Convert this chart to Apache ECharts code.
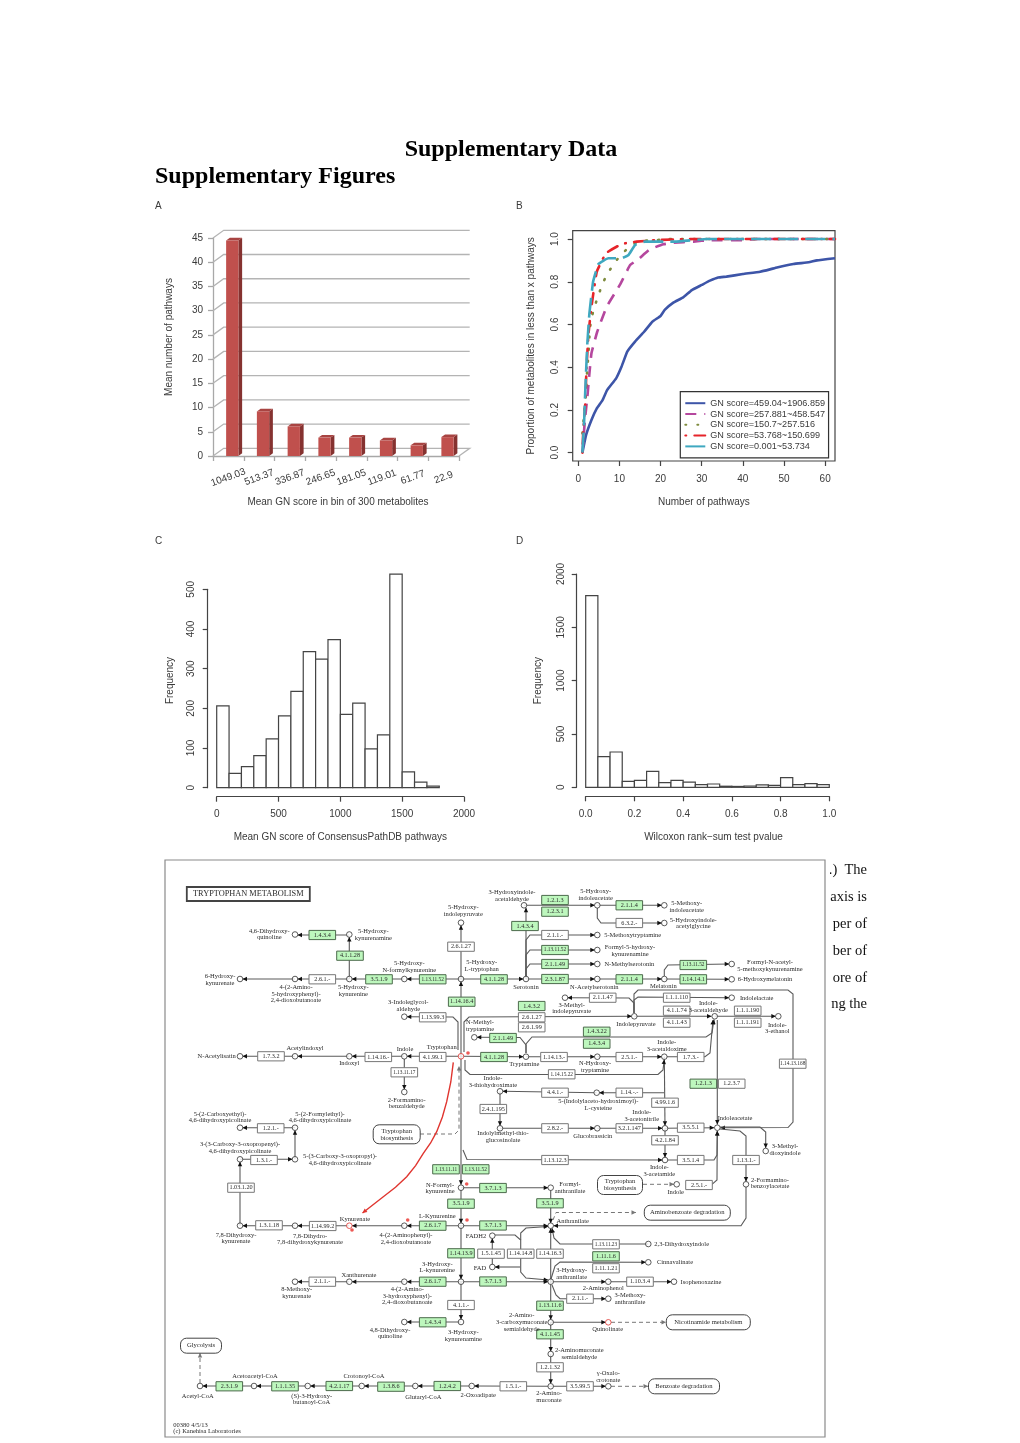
<!DOCTYPE html>
<html>
<head>
<meta charset="utf-8">
<title>Supplementary Figures</title>
<script src="https://cdn.jsdelivr.net/npm/echarts@6/dist/echarts.min.js"></script>
<style>
  html, body { margin: 0; padding: 0; background: #fff; }
  #main { width: 1020px; height: 1443px; }
</style>
</head>
<body>
<div id="main"></div>
<script>
// panel A
const binScores = ['1049.03', '513.37', '336.87', '246.65', '181.05', '119.01', '61.77', '22.9'];
const meanPathways = [44.5, 9.2, 6.1, 3.8, 3.8, 3.2, 2.2, 3.9];
const wallTicks = [0, 5, 10, 15, 20, 25, 30, 35, 40, 45];

// panel B, [x, proportion]
const curveNames = ['GN score=459.04~1906.859', 'GN score=257.881~458.547', 'GN score=150.7~257.516', 'GN score=53.768~150.699', 'GN score=0.001~53.734'];
const curveTop = [[1, 0], [1.9, .083], [3.2, .153], [4.5, .207], [5.9, .246], [7, .293], [9.2, .348], [10.5, .402], [11.9, .473], [13.8, .52], [16, .566], [18, .613], [20, .64], [21, .668], [23.1, .702], [25.5, .727], [27.6, .761], [30, .785], [32, .805], [34, .82], [36, .824], [40, .836], [44.2, .847], [46.6, .858], [48.3, .867], [52.3, .883], [56, .891], [58, .9], [62.4, .91]];
const curveSecond = [[1, 0], [1.6, .15], [2.2, .26], [2.7, .37], [3.2, .465], [4.6, .566], [6.9, .683], [10.1, .785], [12.6, .878], [14.6, .905], [17.4, .952], [20.7, .975], [23.1, .983], [28, .988], [32, .995], [40, .995], [43.4, 1], [62.4, 1]];
const curveThird = [[1, .09], [1.5, .2], [1.9, .285], [2.2, .4], [2.5, .465], [2.8, .575], [3.2, .63], [4, .686], [5, .743], [6, .796], [7.4, .847], [9, .894], [11, .938], [13.2, .975], [16, .992], [18.9, .995], [22, 1], [24.9, 1], [37, 1], [62.4, 1]];
const curveFourth = [[1, 0], [1.2, .098], [1.7, .23], [2, .4], [2.5, .56], [3.2, .683], [4.5, .847], [6.7, .933], [9.3, .964], [11.4, .98], [14.2, .988], [19, .995], [28, 1], [62.4, 1]];
const curveFifth = [[1, 0], [1.4, .137], [1.7, .293], [2.2, .512], [2.7, .652], [3.6, .8], [4.9, .883], [7.3, .91], [10.5, .91], [12.2, .925], [13.8, .972], [16.2, .988], [20.7, .988], [23.5, .988], [31.2, 1], [62.4, 1]];
const bTicksX = [0, 10, 20, 30, 40, 50, 60];
const bTicksY = [0, .2, .4, .6, .8, 1];

// panel C histogram
const cBins = [0, 100, 200, 300, 400, 500, 600, 700, 800, 900, 1000, 1100, 1200, 1300, 1400, 1500, 1600, 1700, 1800];
const cFreq = [206, 36, 53, 81, 123, 181, 243, 343, 324, 373, 185, 213, 98, 133, 538, 40, 14, 4];

// panel D histogram
const dBins = [0, .05, .1, .15, .2, .25, .3, .35, .4, .45, .5, .55, .6, .65, .7, .75, .8, .85, .9, .95, 1];
const dFreq = [1797, 288, 331, 55, 65, 150, 44, 65, 48, 25, 31, 10, 8, 12, 22, 18, 90, 25, 34, 25];

// pathway diagram, in diagram units: [label, x, y, annotated]
const enzymes = [
  ['1.4.3.4', 322.3, 935, 1], ['4.1.1.28', 350, 955.7, 1], ['3.5.1.9', 379, 979.3, 1], ['1.13.11.52', 432.7, 979.3, 1],
  ['2.6.1.-', 322.3, 979.3, 0], ['2.6.1.27', 461, 946.7, 0], ['1.14.16.4', 461.7, 1001.7, 1], ['1.13.99.3', 432.7, 1017.3, 0],
  ['4.1.99.1', 432.7, 1057, 0], ['1.14.16.-', 378.3, 1057, 0], ['1.7.3.2', 271, 1056.3, 0], ['1.13.11.17', 404.3, 1072.3, 0],
  ['1.2.1.-', 270.7, 1128.3, 0], ['4.1.1.28', 494, 979.3, 1], ['1.2.1.3', 555, 900, 1], ['1.2.3.1', 555, 911.7, 1],
  ['1.4.3.4', 525, 926, 1], ['2.1.1.4', 629.3, 905.3, 1], ['6.3.2.-', 629.3, 923, 0], ['2.1.1.-', 555, 935, 0],
  ['1.13.11.52', 555, 950, 1], ['2.1.1.49', 555, 964, 1], ['2.3.1.87', 555, 979, 1], ['2.1.1.4', 629.3, 979.3, 1],
  ['1.13.11.52', 693.3, 965, 1], ['1.14.14.1', 693.3, 979.3, 1], ['2.1.1.47', 602.7, 997.7, 0], ['1.1.1.110', 676.7, 997.7, 0],
  ['4.1.1.74', 676.7, 1010.7, 0], ['4.1.1.43', 676.7, 1022.7, 0], ['1.1.1.190', 747.7, 1010.7, 0], ['1.1.1.191', 747.7, 1022.7, 0],
  ['1.4.3.2', 531.7, 1006, 1], ['2.6.1.27', 531.7, 1017.3, 0], ['2.6.1.99', 531.7, 1027.3, 0], ['2.1.1.49', 503, 1038, 1],
  ['1.4.3.22', 596.7, 1031.7, 1], ['1.4.3.4', 596.7, 1043.7, 1], ['4.1.1.28', 494, 1057, 1], ['1.14.13.-', 554, 1057, 0],
  ['2.5.1.-', 629.3, 1057, 0], ['1.7.3.-', 690.7, 1057, 0], ['1.14.15.22', 561.7, 1074.3, 0], ['1.2.1.3', 703.3, 1083.7, 1],
  ['1.2.3.7', 731.7, 1083.7, 0], ['1.14.-.-', 629.3, 1092.7, 0], ['4.4.1.-', 555, 1092.7, 0], ['2.4.1.195', 493.3, 1109, 0],
  ['4.99.1.6', 665, 1102.7, 0], ['2.8.2.-', 555, 1128.3, 0], ['3.2.1.147', 629.3, 1128.3, 0], ['3.5.5.1', 690.7, 1127.7, 0],
  ['4.2.1.84', 665, 1140.3, 0], ['1.14.13.168', 792.7, 1063.7, 0], ['1.13.12.3', 555, 1160, 0], ['3.5.1.4', 690.7, 1160, 0],
  ['1.13.1.-', 746, 1160, 0], ['2.5.1.-', 699, 1185, 0], ['3.5.1.9', 550, 1203.3, 1], ['3.7.1.3', 493, 1188, 1],
  ['3.7.1.3', 493, 1225.5, 1], ['3.7.1.3', 493, 1281.5, 1], ['1.13.11.23', 606, 1244.3, 0], ['1.11.1.6', 606, 1256.3, 1],
  ['1.11.1.21', 606, 1268.3, 0], ['1.14.14.8', 520.7, 1253.7, 0], ['1.14.16.3', 550, 1253.7, 0], ['1.5.1.45', 491, 1253.7, 0],
  ['1.10.3.4', 640, 1281.7, 0], ['2.1.1.-', 580, 1298.7, 0], ['1.13.11.6', 550, 1305.7, 1], ['4.1.1.45', 550, 1334.3, 1],
  ['1.2.1.32', 550, 1367.3, 0], ['3.5.99.5', 580, 1386.3, 0], ['1.5.1.-', 513.3, 1386.3, 0], ['1.13.11.11', 446, 1169.3, 1],
  ['1.13.11.52', 475.7, 1169.3, 1], ['3.5.1.9', 461, 1203.7, 1], ['2.6.1.7', 432.7, 1225.7, 1], ['1.14.13.9', 461, 1253.3, 1],
  ['2.6.1.7', 432.7, 1281.7, 1], ['4.1.1.-', 461, 1305, 0], ['1.4.3.4', 432.7, 1322.3, 1], ['2.1.1.-', 322.3, 1281.7, 0],
  ['1.14.99.2', 322.7, 1226, 0], ['1.3.1.18', 269, 1225.3, 0], ['1.03.1.20', 241, 1187.7, 0], ['1.3.1.-', 264, 1160, 0],
  ['2.3.1.9', 229.3, 1386.3, 1], ['1.1.1.35', 285, 1386.3, 1], ['4.2.1.17', 339.3, 1386, 1], ['1.3.8.6', 391, 1386.7, 1],
  ['1.2.4.2', 447.3, 1386, 1]
];
const compounds = [
  [295, 934.5], [349.3, 934.5], [349.3, 979], [295, 979], [240, 979], [404.3, 979], [461, 979], [461, 922.7], [404.3, 1016.7],
  [404.3, 1056.3], [349.3, 1056.3], [295, 1056.3], [240, 1056.3], [404.3, 1092], [240, 1127.7], [295, 1127.7], [474.3, 1037.3],
  [295, 1159.3], [240, 1159.3], [240, 1225.7], [295, 1225.7], [404.3, 1225.7], [461, 1225.7], [461, 1187.7], [492.3, 1235.7],
  [492.3, 1267], [461, 1281.7], [404.3, 1281.7], [349.3, 1281.7], [295, 1281.7], [461, 1322], [404.3, 1322], [200, 1386],
  [254, 1386], [307.7, 1386], [361.7, 1386], [415.3, 1386], [471.7, 1386], [524, 905.3], [597.3, 905.3], [664.3, 905.3],
  [664.3, 923], [597.3, 935], [597.3, 950], [597.3, 964], [526, 979], [597.3, 979], [664.3, 979], [731.7, 964], [731.7, 979.3],
  [565, 997.7], [634.3, 1016.3], [731.7, 997.7], [714.7, 1016.3], [778.3, 1016.3], [526, 1056.7], [597.3, 1056.7], [664.3, 1056.7],
  [596.7, 1092.7], [500, 1091.3], [500, 1128.3], [597.3, 1128.3], [665, 1128.3], [717.3, 1127.7], [765.7, 1151], [665, 1160],
  [676.7, 1184.3], [746, 1184.3], [550.7, 1187.7], [550.7, 1225.7], [648.3, 1244], [648.3, 1262.3], [550.7, 1281.7], [608.3, 1281.7],
  [674, 1281.7], [608.3, 1298.7], [550.7, 1322.3], [550.7, 1354], [550.7, 1386.3], [608.3, 1386.3]
];
const markedCompounds = [[461, 1056.3], [349.3, 1225.7], [608.3, 1322.3]];
const redDots = [[468, 1053], [466.7, 1184], [467, 1220], [407.7, 1220], [352, 1230]];
const compoundNames = [
  ['4,6-Dihydroxy-\nquinoline', 269.3, 934.3], ['5-Hydroxy-\nkynurenamine', 373.3, 935], ['6-Hydroxy-\nkynurenate', 220, 980],
  ['4-(2-Amino-\n5-hydroxyphenyl)-\n2,4-dioxobutanoate', 296, 994], ['5-Hydroxy-\nkynurenine', 353.3, 991],
  ['5-Hydroxy-\nN-formylkynurenine', 409.3, 966.7], ['5-Hydroxy-\nL-tryptophan', 481.7, 966], ['5-Hydroxy-\nindolepyruvate', 463.3, 910.7],
  ['3-Indoleglycol-\naldehyde', 408.3, 1005.7], ['N-Methyl-\ntryptamine', 480, 1026], ['N-Acetylisatin', 216.7, 1056.3],
  ['Acetylindoxyl', 305, 1048.7], ['Indoxyl', 349.3, 1063.7], ['Indole', 405, 1049.3], ['Tryptophan', 441.7, 1047.7],
  ['2-Formamino-\nbenzaldehyde', 406.7, 1103.3], ['5-(2-Carboxyethyl)-\n4,6-dihydroxypicolinate', 220, 1117.3],
  ['5-(2-Formylethyl)-\n4,6-dihydroxypicolinate', 320, 1117.3], ['3-(3-Carboxy-3-oxopropenyl)-\n4,6-dihydroxypicolinate', 240, 1147.7],
  ['5-(3-Carboxy-3-oxopropyl)-\n4,6-dihydroxypicolinate', 340, 1160], ['7,8-Dihydroxy-\nkynurenate', 236, 1238.3],
  ['7,8-Dihydro-\n7,8-dihydroxykynurenate', 310, 1239.3], ['Kynurenate', 355, 1219], ['4-(2-Aminophenyl)-\n2,4-dioxobutanoate', 406, 1238.7],
  ['L-Kynurenine', 437.3, 1216], ['N-Formyl-\nkynurenine', 440, 1188.3], ['FADH2', 476, 1236], ['FAD', 480, 1268.7],
  ['3-Hydroxy-\nL-kynurenine', 437.3, 1267.3], ['Xanthurenate', 359, 1275], ['8-Methoxy-\nkynurenate', 296.7, 1292.7],
  ['4-(2-Amino-\n3-hydroxyphenyl)-\n2,4-dioxobutanoate', 407.3, 1296], ['4,8-Dihydroxy-\nquinoline', 390, 1333.3],
  ['3-Hydroxy-\nkynurenamine', 463.3, 1336], ['Acetyl-CoA', 197.7, 1396], ['Acetoacetyl-CoA', 255, 1376.7],
  ['(S)-3-Hydroxy-\nbutanoyl-CoA', 311.7, 1399.3], ['Crotonoyl-CoA', 364, 1376], ['Glutaryl-CoA', 423.3, 1397], ['2-Oxoadipate', 478.3, 1395],
  ['3-Hydroxyindole-\nacetaldehyde', 512, 896], ['5-Hydroxy-\nindoleacetate', 595.7, 895], ['5-Methoxy-\nindoleacetate', 686.7, 906.7],
  ['5-Hydroxyindole-\nacetylglycine', 693.3, 923.3], ['5-Methoxytryptamine', 632.7, 935], ['Formyl-5-hydroxy-\nkynurenamine', 630, 950.7],
  ['N-Methylserotonin', 629.3, 964.3], ['Serotonin', 526, 987.3], ['Melatonin', 663.3, 986], ['Formyl-N-acetyl-\n5-methoxykynurenamine', 770, 965.7],
  ['6-Hydroxymelatonin', 765, 979.7], ['N-Acetylserotonin', 594.3, 987.7], ['Indolelactate', 756.7, 998.3], ['Indole-\n3-acetaldehyde', 708.3, 1006.7],
  ['Indole-\n3-ethanol', 777.3, 1028.3], ['Indolepyruvate', 636, 1024.3], ['3-Methyl-\nindolepyruvate', 571.7, 1008.3], ['Tryptamine', 524.3, 1064.3],
  ['N-Hydroxy-\ntryptamine', 595, 1066.7], ['Indole-\n3-acetaldoxime', 666.7, 1046], ['5-(Indolylaceto-hydroximoyl)-\nL-cysteine', 598.3, 1105],
  ['Indole-\n3-acetonitrile', 641.7, 1115.7], ['Indoleacetate', 735, 1118.3], ['3-Methyl-\ndioxyindole', 785, 1150], ['Glucobrassicin', 592.7, 1136.7],
  ['Indole-\n3-thiohydroximate', 493, 1082], ['Indolylmethyl-thio-\nglucosinolate', 503, 1137], ['Indole-\n3-acetamide', 659.3, 1170.7],
  ['Indole', 675.7, 1192.7], ['2-Formamino-\nbenzoylacetate', 770, 1183.3], ['Formyl-\nanthranilate', 570, 1187.7], ['Anthranilate', 572.7, 1221.3],
  ['2,3-Dihydroxyindole', 681.7, 1244], ['Cinnavalinate', 675, 1262.7], ['Isophenoxazine', 701, 1282.3], ['3-Hydroxy-\nanthranilate', 571.7, 1274],
  ['2-Aminophenol', 603.3, 1288.3], ['3-Methoxy-\nanthranilate', 630, 1299], ['2-Amino-\n3-carboxymuconate\nsemialdehyde', 521.7, 1322.3],
  ['Quinolinate', 607.7, 1329.3], ['2-Aminomuconate\nsemialdehyde', 579.3, 1354], ['γ-Oxalo-\ncrotonate', 608.3, 1376.7], ['2-Amino-\nmuconate', 549, 1396.7]
];
const mapBoxes = [
  ['TRYPTOPHAN METABOLISM', 248.3, 894, 123, 14], ['Aminobenzoate degradation', 687.3, 1212.7, 86, 15], ['Nicotinamide metabolism', 708.3, 1322.3, 84, 15],
  ['Benzoate degradation', 684, 1386.3, 71, 15], ['Tryptophan\nbiosynthesis', 620, 1185, 45, 19], ['Tryptophan\nbiosynthesis', 396.7, 1134.3, 47, 19], ['Glycolysis', 201, 1345.7, 41, 15]
];
// reactions ending in an arrowhead, flat x,y lists
const arrowEdges = [
  [349.3, 935, 297.5, 935], [349.3, 979, 349.3, 937], [461, 979, 406.8, 979], [404.3, 979, 351.8, 979], [349.3, 979, 297.5, 979], [295, 979, 242.5, 979],
  [461, 1056, 461, 981.5], [461, 979, 461, 925.2], [461, 979, 523.5, 979], [526, 979, 526, 907.8],
  [526, 976, 526, 940, 530, 935, 594.8, 935], [526, 976, 526, 955, 530, 950, 594.8, 950], [526, 976, 526, 969, 530, 964, 594.8, 964],
  [526, 979, 594.8, 979], [597.3, 979, 661.8, 979], [664.3, 979, 729.2, 979.3], [664.3, 976, 664.3, 970, 668, 965, 729.2, 964],
  [524, 905.3, 594.8, 905.3], [597.3, 905.3, 661.8, 905.3], [597.3, 908, 597.3, 918, 601, 923, 661.8, 923],
  [461, 1056.3, 406.8, 1056.3], [404.3, 1056.3, 351.8, 1056.3], [349.3, 1056.3, 297.5, 1056.3], [295, 1056.3, 242.5, 1056.3], [404.3, 1059, 404.3, 1089.5],
  [458, 1050, 458, 1022, 453, 1017, 406.8, 1016.7], [461, 1056.3, 523.5, 1056.7], [526, 1056.7, 594.8, 1056.7], [597.3, 1056.7, 661.8, 1056.7],
  [667, 1056.7, 705, 1056.7, 710, 1053, 713, 1020], [464, 1052, 464, 1022, 469, 1017, 631.8, 1016.3], [526, 1053, 526, 1045, 520, 1037.5, 476.8, 1037.3],
  [526, 1053, 526, 1044, 532, 1037, 706, 1037, 712, 1033, 714, 1019.5], [634.3, 1016.3, 711.5, 1016.3], [714.7, 1016.3, 775.8, 1016.3],
  [634, 1013, 634, 1000, 638, 997, 729.2, 997.7], [634, 1013, 634, 1003, 629, 998, 567.5, 997.7], [634, 1013, 634, 994, 638, 990, 788, 990, 793, 994, 793, 1122, 788, 1127.5, 720.5, 1127.7],
  [717.3, 1020, 717.3, 1124.5], [712, 1184.3, 717, 1180, 717.3, 1131], [668, 1160, 714, 1160, 717, 1155, 717.3, 1131], [665, 1128.3, 714.2, 1127.7],
  [664.3, 1056.7, 665, 1125.8], [665, 1128.3, 665, 1157.5], [720, 1127, 760, 1127, 765.7, 1132, 765.7, 1148],
  [720, 1129, 740, 1131, 746, 1136, 746, 1181.5], [746, 1187, 746, 1218, 741, 1225.7, 553.5, 1225.7], [664.3, 1092.7, 599.2, 1092.7], [596.7, 1092.7, 502.5, 1091.3],
  [465, 1060, 465, 1070, 470, 1074.5, 658, 1074.5, 663, 1070, 664.3, 1059.5], [461, 1056.3, 461, 1184.7], [500, 1128.3, 594.8, 1128.3], [597.3, 1128.3, 662.5, 1128.3],
  [500, 1091.3, 500, 1125.8], [463, 1150, 467, 1159.5, 662.5, 1160], [461, 1187.7, 548.2, 1187.7], [461, 1190, 461, 1223.2], [550.7, 1190, 550.7, 1223.2],
  [461, 1225.7, 548.2, 1225.7], [461, 1225.7, 406.8, 1225.7], [404.3, 1225.7, 352, 1225.7], [349.3, 1225.7, 297.5, 1225.7], [295, 1225.7, 242.5, 1225.7], [240, 1225.7, 240, 1161.8],
  [461, 1225.7, 461, 1279.2], [461, 1281.7, 406.8, 1281.7], [404.3, 1281.7, 351.8, 1281.7], [349.3, 1281.7, 297.5, 1281.7], [461, 1281.7, 548.2, 1281.7],
  [461, 1281.7, 461, 1319.5], [461, 1322, 406.8, 1322], [240, 1159.3, 292.5, 1159.3], [295, 1159.3, 295, 1130.2], [295, 1127.7, 242.5, 1127.7],
  [492.3, 1265, 492.3, 1238.2], [520, 1267, 494.8, 1267], [495, 1235, 515, 1235, 520.7, 1240, 520.7, 1272, 526, 1278, 548.2, 1280], [520.7, 1240, 520.7, 1233, 526, 1228, 548.2, 1226.5],
  [550.7, 1281.7, 550.7, 1228.2], [648.3, 1244, 560, 1244, 554, 1238, 552, 1228.2], [551, 1279, 555, 1266, 560, 1262, 645.8, 1262.3], [550.7, 1281.7, 605.8, 1281.7], [608.3, 1281.7, 671.5, 1281.7],
  [552, 1285, 556, 1295, 560, 1298.7, 605.8, 1298.7], [550.7, 1281.7, 550.7, 1319.8], [550.7, 1322.3, 605.8, 1322.3], [550.7, 1322.3, 550.7, 1351.5], [550.7, 1354, 550.7, 1383.8],
  [550.7, 1386.3, 474.2, 1386], [471.7, 1386, 417.8, 1386], [415.3, 1386, 364.2, 1386], [361.7, 1386, 310.2, 1386], [307.7, 1386, 256.5, 1386], [254, 1386, 202.5, 1386], [550.7, 1386.3, 605.8, 1386.3]
];
// map links
const dashEdges = [
  [420, 1134, 455, 1134, 459, 1130, 459, 1066], [200, 1383, 200, 1353], [611, 1322.3, 666, 1322.3], [611, 1386.3, 648, 1386.3],
  [553, 1220, 556, 1212.5, 636, 1212.5], [643, 1184.3, 674, 1184.3]
];
const redArc = [453.3, 1062.3, 450.8, 1082, 446.7, 1101.7, 442.4, 1117, 436.7, 1131.7, 430.6, 1143, 423.3, 1153.3, 415.6, 1165.6, 406.7, 1176.7, 395.5, 1187.3, 383.3, 1196.7, 362.5, 1213];

// page text
const sideLines = [['.)  The', 870], ['axis is', 897], ['per of', 924], ['ber of', 951], ['ore of', 978], ['ng the', 1004]];
const panelLetters = [['A', 155, 206], ['B', 516, 206], ['C', 155, 541], ['D', 516, 541]];

const SANS = '"Liberation Sans", Arial, sans-serif';
const SERIF = '"Liberation Serif", "Times New Roman", serif';
const INK = '#3a3a3a';
const AXIS_GREY = '#a8a8a8';

const myChart = echarts.init(document.getElementById('main'));

function fixedTicks(v) { return v.toFixed(1); }
function plainTicks(v) { return String(v); }

// R style axis: ticks out, labels turned for y
function rAxisX(gridIndex, min, max, interval, name, gap, fmt, shift) {
  return {
    type: 'value', gridIndex, min, max, interval, offset: 9,
    name, nameLocation: 'middle', nameGap: gap,
    nameTextStyle: { color: INK, fontFamily: SANS, fontSize: 10, padding: [0, 0, 0, shift || 0] },
    axisLine: { show: true, onZero: false, lineStyle: { color: '#444', width: 1.2 } },
    axisTick: { show: true, length: 5, lineStyle: { color: '#444', width: 1.2 } },
    axisLabel: { color: INK, fontFamily: SANS, fontSize: 10, margin: 13, showMaxLabel: true, showMinLabel: true, formatter: fmt },
    splitLine: { show: false }
  };
}
function rAxisY(gridIndex, min, max, interval, name, gap, shift, margin) {
  return {
    type: 'value', gridIndex, min, max, interval, offset: 9,
    name, nameLocation: 'middle', nameGap: gap,
    nameTextStyle: { color: INK, fontFamily: SANS, fontSize: 10, padding: [0, 0, 0, shift || 0] },
    axisLine: { show: true, onZero: false, lineStyle: { color: '#444', width: 1.2 } },
    axisTick: { show: true, length: 5, lineStyle: { color: '#444', width: 1.2 } },
    axisLabel: { color: INK, fontFamily: SANS, fontSize: 10, margin, rotate: 90, showMaxLabel: true, showMinLabel: true, formatter: plainTicks },
    splitLine: { show: false }
  };
}

function histSeries(axisIndex, bins, freq) {
  return {
    type: 'custom', xAxisIndex: axisIndex, yAxisIndex: axisIndex, clip: false,
    data: freq.map((f, i) => [bins[i], bins[i + 1], f]),
    encode: { x: [0, 1], y: 2 },
    renderItem(params, api) {
      const a = api.coord([api.value(0), 0]);
      const b = api.coord([api.value(1), api.value(2)]);
      return {
        type: 'rect',
        shape: { x: a[0], y: b[1], width: b[0] - a[0], height: a[1] - b[1] },
        style: { fill: '#fff', stroke: '#444', lineWidth: 1.2 }
      };
    }
  };
}

// 3D look of the Excel bars in panel A
const WALL_DX = 10.7, WALL_DY = 7.7, BAR_W = 12.3, BAR_DX = 3.7, BAR_DY = 2.7, BAR_SHIFT = 3.9;

function renderBar(params, api) {
  const top = api.coord([api.value(0), api.value(1)]);
  const base = api.coord([api.value(0), 0]);
  const l = top[0] - BAR_W / 2 + BAR_SHIFT, r = l + BAR_W;
  return {
    type: 'group',
    children: [
      { type: 'polygon', shape: { points: [[r, top[1]], [r + BAR_DX, top[1] - BAR_DY], [r + BAR_DX, base[1] - BAR_DY], [r, base[1]]] }, style: { fill: '#853230' } },
      { type: 'polygon', shape: { points: [[l, top[1]], [l + BAR_DX, top[1] - BAR_DY], [r + BAR_DX, top[1] - BAR_DY], [r, top[1]]] }, style: { fill: '#a84442' } },
      { type: 'rect', shape: { x: l, y: top[1], width: BAR_W, height: base[1] - top[1] }, style: { fill: '#c0504d' } }
    ]
  };
}

function renderWall(params, api) {
  const p = api.coord([0, api.value(0)]);
  const axisLeft = params.coordSys.x, axisRight = axisLeft + params.coordSys.width;
  const pts = [[axisLeft, p[1]], [axisLeft + WALL_DX, p[1] - WALL_DY], [axisRight + WALL_DX, p[1] - WALL_DY]];
  if (api.value(0) === 0) pts.push([axisRight, p[1]]);
  return { type: 'polyline', shape: { points: pts }, style: { stroke: '#b4b4b4', lineWidth: 1.3, fill: null } };
}

function pairs(flat) {
  const out = [];
  for (let i = 0; i < flat.length; i += 2) out.push([flat[i], flat[i + 1]]);
  return out;
}

function edgeSeries(list, stroke, width, dash, arrow, arrowFill, z) {
  return {
    type: 'custom', xAxisIndex: 4, yAxisIndex: 4, clip: false, z,
    data: list.map(e => [e[0], e[1]]),
    encode: { x: 0, y: 1 },
    renderItem(params, api) {
      const pts = pairs(list[params.dataIndex]).map(p => api.coord(p));
      const children = [{ type: 'polyline', shape: { points: pts }, style: { stroke, lineWidth: width, fill: null, lineDash: dash || null } }];
      if (arrow) {
        const tip = pts[pts.length - 1], from = pts[pts.length - 2];
        const len = Math.hypot(tip[0] - from[0], tip[1] - from[1]) || 1;
        const ux = (tip[0] - from[0]) / len, uy = (tip[1] - from[1]) / len;
        children.push({
          type: 'polygon',
          shape: { points: [tip, [tip[0] - ux * 4.5 - uy * 2.2, tip[1] - uy * 4.5 + ux * 2.2], [tip[0] - ux * 4.5 + uy * 2.2, tip[1] - uy * 4.5 - ux * 2.2]] },
          style: { fill: arrowFill }
        });
      }
      return { type: 'group', children };
    }
  };
}

const lineStyles = [
  { color: '#3d55a8', width: 2.6 },
  { color: '#b5479e', width: 2.6, type: [11, 8] },
  { color: '#7f8c3e', width: 2.6, type: [1, 11], cap: 'round' },
  { color: '#e6242a', width: 2.6, type: [1, 8, 11, 8], cap: 'round' },
  { color: '#3fa8c0', width: 2.6, type: [20, 7] }
];
const curves = [curveTop, curveSecond, curveThird, curveFourth, curveFifth];

const option = {
  animation: false,
  backgroundColor: '#fff',
  textStyle: { fontFamily: SANS },
  grid: [
    { left: 213, top: 238, width: 246, height: 218 },
    { left: 572.7, top: 230.7, width: 262.3, height: 230.3, show: true, borderColor: '#444', borderWidth: 1.2, backgroundColor: 'transparent' },
    { left: 216.7, top: 589.3, width: 247.3, height: 198.4 },
    { left: 585.7, top: 574, width: 243.6, height: 213.3 },
    { left: 165, top: 860, width: 660, height: 578 }
  ],
  xAxis: [
    {
      type: 'category', gridIndex: 0, data: binScores,
      name: 'Mean GN score in bin of 300 metabolites', nameLocation: 'middle', nameGap: 41,
      nameTextStyle: { color: INK, fontFamily: SANS, fontSize: 10, padding: [0, 0, 0, 4] },
      axisLine: { show: true, lineStyle: { color: AXIS_GREY, width: 1.3 } },
      axisTick: { show: true, alignWithLabel: false, length: 5, lineStyle: { color: AXIS_GREY, width: 1.3 } },
      axisLabel: { color: INK, fontFamily: SANS, fontSize: 10, rotate: 20, margin: 21.5, align: 'center', verticalAlign: 'middle', interval: 0 },
      splitLine: { show: false }
    },
    {
      type: 'value', gridIndex: 1, min: -1.36, max: 62.4,
      name: 'Number of pathways', nameLocation: 'middle', nameGap: 36,
      nameTextStyle: { color: INK, fontFamily: SANS, fontSize: 10 },
      axisLine: { show: false, onZero: false },
      axisTick: { show: true, length: 5, lineStyle: { color: '#444', width: 1.2 }, customValues: bTicksX },
      axisLabel: { color: INK, fontFamily: SANS, fontSize: 10, margin: 13, customValues: bTicksX },
      splitLine: { show: false }
    },
    rAxisX(2, 0, 2000, 500, 'Mean GN score of ConsensusPathDB pathways', 36, plainTicks),
    rAxisX(3, 0, 1, 0.2, 'Wilcoxon rank\u2212sum test pvalue', 36, fixedTicks, 12),
    { type: 'value', gridIndex: 4, min: 165, max: 825, show: false }
  ],
  yAxis: [
    {
      type: 'value', gridIndex: 0, min: 0, max: 45, interval: 5,
      name: 'Mean number of pathways', nameLocation: 'middle', nameGap: 39,
      nameTextStyle: { color: INK, fontFamily: SANS, fontSize: 10, padding: [0, 0, 0, 20] },
      axisLine: { show: true, lineStyle: { color: AXIS_GREY, width: 1.3 } },
      axisTick: { show: true, length: 5, lineStyle: { color: AXIS_GREY, width: 1.3 } },
      axisLabel: { color: INK, fontFamily: SANS, fontSize: 10, margin: 10 },
      splitLine: { show: false }
    },
    {
      type: 'value', gridIndex: 1, min: -0.039, max: 1.039,
      name: 'Proportion of metabolites in less than x pathways', nameLocation: 'middle', nameGap: 36,
      nameTextStyle: { color: INK, fontFamily: SANS, fontSize: 10 },
      axisLine: { show: false, onZero: false },
      axisTick: { show: true, length: 5, lineStyle: { color: '#444', width: 1.2 }, customValues: bTicksY },
      axisLabel: { color: INK, fontFamily: SANS, fontSize: 10, margin: 12, rotate: 90, customValues: bTicksY, formatter: fixedTicks },
      splitLine: { show: false }
    },
    rAxisY(2, 0, 500, 100, 'Frequency', 32, 16, 11),
    rAxisY(3, 0, 2000, 500, 'Frequency', 33, 0, 10),
    { type: 'value', gridIndex: 4, min: 860, max: 1438, inverse: true, show: false }
  ],
  legend: {
    left: 680.3, top: 391.7, orient: 'vertical',
    data: curveNames,
    backgroundColor: '#fff', borderColor: '#333', borderWidth: 1.2,
    padding: [7, 3.5, 7, 4], itemGap: 1.8, itemWidth: 20, itemHeight: 8,
    itemStyle: { color: 'transparent', borderColor: 'transparent', borderWidth: 0, opacity: 0 },
    textStyle: { color: INK, fontFamily: SANS, fontSize: 9.1, lineHeight: 8 },
    selectedMode: false
  },
  graphic: {
    elements: [
      { type: 'text', x: 511, y: 150, style: { text: 'Supplementary Data', font: 'bold 24px ' + SERIF, fill: '#000', align: 'center', verticalAlign: 'middle' } },
      { type: 'text', x: 155, y: 177, style: { text: 'Supplementary Figures', font: 'bold 24px ' + SERIF, fill: '#000', align: 'left', verticalAlign: 'middle' } },
      ...panelLetters.map(p => ({ type: 'text', x: p[1], y: p[2], style: { text: p[0], font: '10px ' + SANS, fill: INK, align: 'left', verticalAlign: 'middle' } })),
      ...sideLines.map(s => ({ type: 'text', z: 0, x: 867, y: s[1], style: { text: s[0], font: '14.5px ' + SERIF, fill: '#111', align: 'right', verticalAlign: 'middle' } })),
      { type: 'rect', z: 1, shape: { x: 165, y: 860, width: 665, height: 578 }, style: { fill: '#fff' } },
      { type: 'rect', z: 1, shape: { x: 165, y: 860, width: 660, height: 577 }, style: { fill: '#fff', stroke: '#8a8a8a', lineWidth: 1.2 } }
    ]
  },
  series: [
    // panel A
    { type: 'custom', xAxisIndex: 0, yAxisIndex: 0, clip: false, data: wallTicks.map(v => [v]), encode: { y: 0 }, renderItem: renderWall },
    { type: 'custom', xAxisIndex: 0, yAxisIndex: 0, clip: false, z: 3, data: meanPathways.map((v, i) => [i, v]), encode: { x: 0, y: 1 }, renderItem: renderBar },
    // panel B
    ...curveNames.map((name, i) => ({
      type: 'line', name, xAxisIndex: 1, yAxisIndex: 1, data: curves[i], symbol: 'none', smooth: 0.1,
      lineStyle: lineStyles[i], itemStyle: { color: lineStyles[i].color }, z: 3 + i * 0.01
    })),
    // panels C and D
    histSeries(2, cBins, cFreq),
    histSeries(3, dBins, dFreq),
    // pathway diagram
    edgeSeries(dashEdges, '#777', 1, [4, 3], true, '#777', 3),
    edgeSeries(arrowEdges, '#5a5a5a', 1.1, null, true, '#111', 3),
    edgeSeries([redArc], '#e0352f', 1.4, null, true, '#e0352f', 4),
    {
      type: 'custom', xAxisIndex: 4, yAxisIndex: 4, clip: false, z: 5,
      data: enzymes.map(e => [e[1], e[2]]), encode: { x: 0, y: 1 },
      renderItem(params, api) {
        const e = enzymes[params.dataIndex], c = api.coord([e[1], e[2]]);
        const fontSize = e[0].length >= 10 ? 5.3 : 6.2;
        return {
          type: 'group',
          children: [
            { type: 'rect', shape: { x: c[0] - 13.3, y: c[1] - 4.6, width: 26.6, height: 9.2 }, style: { fill: e[3] ? '#bdf7bd' : '#fff', stroke: e[3] ? '#4d6b4d' : '#777', lineWidth: 1 } },
            { type: 'text', style: { x: c[0], y: c[1], text: e[0], font: fontSize + 'px ' + SERIF, fill: '#2a2a2a', align: 'center', verticalAlign: 'middle' } }
          ]
        };
      }
    },
    {
      type: 'custom', xAxisIndex: 4, yAxisIndex: 4, clip: false, z: 5,
      data: mapBoxes.map(m => [m[1], m[2]]), encode: { x: 0, y: 1 },
      renderItem(params, api) {
        const m = mapBoxes[params.dataIndex], c = api.coord([m[1], m[2]]);
        const isTitle = params.dataIndex === 0;
        return {
          type: 'group',
          children: [
            { type: 'rect', shape: { x: c[0] - m[3] / 2, y: c[1] - m[4] / 2, width: m[3], height: m[4], r: isTitle ? 0 : 6 }, style: { fill: '#fff', stroke: '#444', lineWidth: isTitle ? 1.8 : 1 } },
            { type: 'text', style: { x: c[0], y: c[1], text: m[0], font: (isTitle ? '8.3px ' : '6.6px ') + SERIF, fill: '#2a2a2a', align: 'center', verticalAlign: 'middle' } }
          ]
        };
      }
    },
    {
      type: 'scatter', xAxisIndex: 4, yAxisIndex: 4, z: 6, symbol: 'circle', symbolSize: 5.6, data: compounds, clip: false,
      itemStyle: { color: '#fff', borderColor: '#333', borderWidth: 1 }
    },
    {
      type: 'scatter', xAxisIndex: 4, yAxisIndex: 4, z: 6, symbol: 'circle', symbolSize: 5.6, data: markedCompounds, clip: false,
      itemStyle: { color: '#fff', borderColor: '#e0352f', borderWidth: 1 }
    },
    {
      type: 'scatter', xAxisIndex: 4, yAxisIndex: 4, z: 6, symbol: 'circle', symbolSize: 3.6, data: redDots, clip: false,
      itemStyle: { color: '#e8302a' }
    },
    {
      type: 'custom', xAxisIndex: 4, yAxisIndex: 4, clip: false, z: 7,
      data: compoundNames.map(n => [n[1], n[2]]), encode: { x: 0, y: 1 },
      renderItem(params, api) {
        const n = compoundNames[params.dataIndex], c = api.coord([n[1], n[2]]);
        return { type: 'text', style: { x: c[0], y: c[1], text: n[0], font: '6.5px ' + SERIF, lineHeight: 6.6, fill: '#2a2a2a', align: 'center', verticalAlign: 'middle' } };
      }
    },
    {
      type: 'custom', xAxisIndex: 4, yAxisIndex: 4, clip: false, z: 7,
      data: [[173.3, 1428.3]], encode: { x: 0, y: 1 },
      renderItem(params, api) {
        const c = api.coord([api.value(0), api.value(1)]);
        return { type: 'text', style: { x: c[0], y: c[1], text: '00380 4/5/13\n(c) Kanehisa Laboratories', font: '6.5px ' + SERIF, lineHeight: 6.6, fill: '#2a2a2a', align: 'left', verticalAlign: 'middle' } };
      }
    }
  ]
};

myChart.setOption(option);
</script>
</body>
</html>
